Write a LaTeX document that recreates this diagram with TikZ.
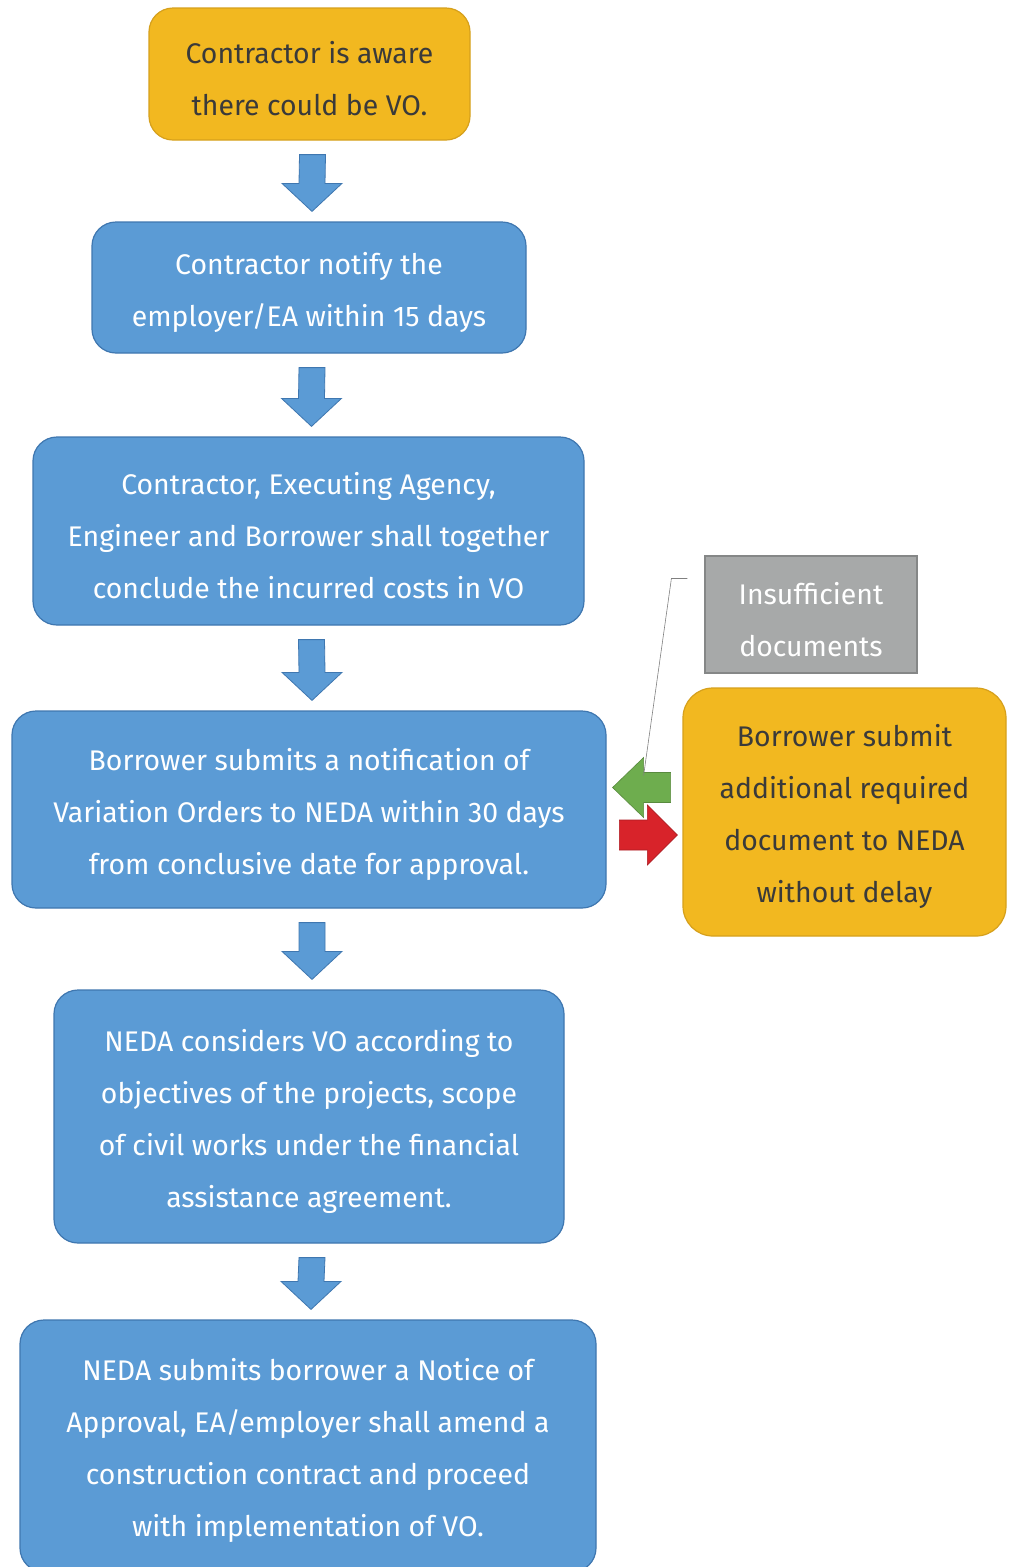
\documentclass[tikz,border=0pt]{standalone}
\usepackage{fontspec}
\setmainfont{Fira Sans}
\usepackage{tikz}
\usetikzlibrary{calc}
\definecolor{StepBlue}{HTML}{5B9BD5}
\definecolor{BlueEdge}{HTML}{3F77B0}
\definecolor{StepGold}{HTML}{F2B820}
\definecolor{GoldEdge}{HTML}{D6A01C}
\definecolor{NoteGrey}{HTML}{A7A9A9}
\definecolor{GreyEdge}{HTML}{858787}
\definecolor{BackGreen}{HTML}{6EAD4E}
\definecolor{FwdRed}{HTML}{D8232A}
\definecolor{DarkText}{HTML}{3A3A3A}

\tikzset{
  bluebox/.style={draw=BlueEdge, fill=StepBlue, line width=1.2pt, rounded corners=24pt,
    text=white, align=center, inner sep=0pt, font=\fontsize{28.4}{52}\selectfont},
  goldbox/.style={bluebox, draw=GoldEdge, fill=StepGold, text=DarkText},
  greybox/.style={bluebox, draw=GreyEdge, fill=NoteGrey, sharp corners},
  downarrow/.style={draw=BlueEdge, fill=StepBlue, line width=0.8pt},
  callout/.style={draw=gray, line width=0.6pt}
}

% block arrow from the bottom of one box to the top of the next
\newcommand{\flowarrow}[2]{%
  \path[downarrow] ($(#1.south)+(-10,14)$) -- ($(#1.south)+(16,14)$)
    -- ($(#2.north)+(16,-38)$) -- ($(#2.north)+(33,-38)$) -- ($(#2.north)+(3,-10)$)
    -- ($(#2.north)+(-27,-38)$) -- ($(#2.north)+(-10,-38)$) -- cycle;}
% extra room above the first line, so the text sits a bit low in its box
\newcommand{\topgap}{\rule{0pt}{32pt}}

\begin{document}
\begin{tikzpicture}[x=1pt,y=-1pt]
  \useasboundingbox[fill=white] (0,0) rectangle (1013,1567);

  % main steps
  \node[goldbox, minimum width=321pt, minimum height=132pt] (aware) at (309.5,74)
    {\topgap Contractor is aware\\there could be VO.};
  \node[bluebox, minimum width=434pt, minimum height=131pt] (notify) at (309,287.5)
    {\topgap Contractor notify the\\employer/EA within 15 days};
  \node[bluebox, minimum width=551pt, minimum height=188pt] (conclude) at (308.5,531)
    {\topgap Contractor, Executing Agency,\\Engineer and Borrower shall together\\conclude the incurred costs in VO};
  \node[bluebox, minimum width=594pt, minimum height=197pt] (submit) at (309,809.5)
    {\topgap Borrower submits a notification of\\Variation Orders to NEDA within 30 days\\from conclusive date for approval.};
  \node[bluebox, minimum width=510pt, minimum height=253pt] (consider) at (309,1116.5)
    {\topgap NEDA considers VO according to\\objectives of the projects, scope\\of civil works under the financial\\assistance agreement.};
  \node[bluebox, minimum width=576pt, minimum height=252pt] (approve) at (308,1446)
    {\topgap NEDA submits borrower a Notice of\\Approval, EA/employer shall amend a\\construction contract and proceed\\with implementation of VO.};

  % side loop
  \node[greybox, minimum width=212pt, minimum height=117pt] (lack) at (811,614.5)
    {\topgap Insufficient\\documents};
  \node[goldbox, rounded corners=30pt, minimum width=323pt, minimum height=248pt] (resend) at (844.5,812)
    {\topgap Borrower submit\\additional required\\document to NEDA\\without delay};

  \flowarrow{aware}{notify}
  \flowarrow{notify}{conclude}
  \flowarrow{conclude}{submit}
  \flowarrow{submit}{consider}
  \flowarrow{consider}{approve}

  \coordinate (backtip) at ($(submit.east)+(6,-22)$);
  \coordinate (fwdtip) at ($(resend.west)+(-5,23)$);
  \path[draw=BackGreen!80!black, fill=BackGreen, line width=0.6pt] (backtip) -- ++(31,-30) -- ++(0,15)
    -- ++(27,0) -- ++(0,30) -- ++(-27,0) -- ++(0,15) -- cycle;
  \path[draw=FwdRed!80!black, fill=FwdRed, line width=0.6pt] (fwdtip) -- ++(-30,-30) -- ++(0,15)
    -- ++(-28,0) -- ++(0,30) -- ++(28,0) -- ++(0,15) -- cycle;
  \draw[callout] ($(lack.west)+(-17,-36)$) -- ++(-16,0) -- ($(backtip)+(31,-12)$);
\end{tikzpicture}
\end{document}
